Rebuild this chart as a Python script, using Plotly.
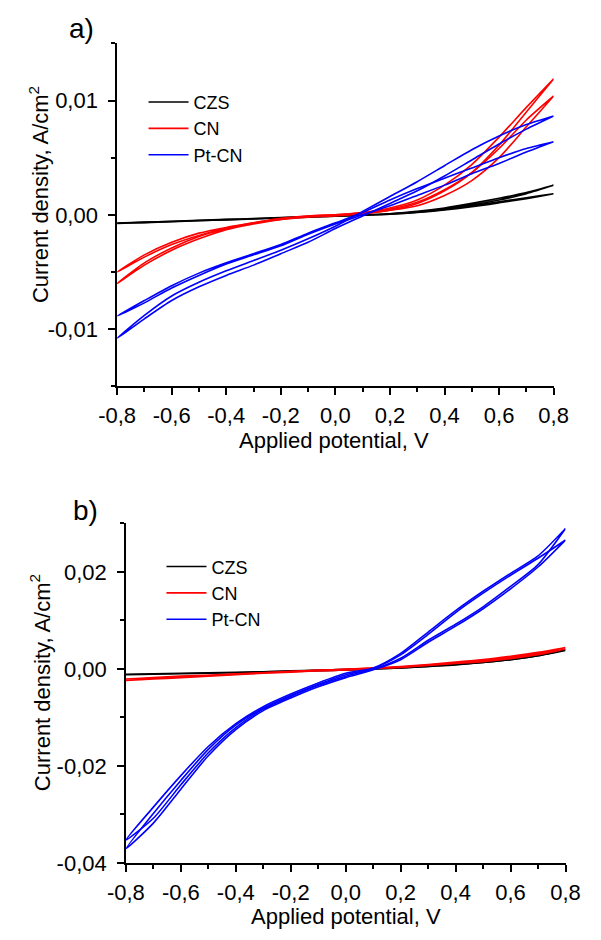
import plotly.graph_objects as go

# ---------------- data ----------------
V = [-0.8, -0.7, -0.6, -0.5, -0.4, -0.3, -0.2, -0.1, 0.0, 0.1, 0.2, 0.3, 0.4, 0.5, 0.6, 0.7, 0.8]
series_names = ["CZS", "CN", "Pt-CN"]

# panel a) : two cycles per sample, each cycle = forward + reverse branch (A/cm2)
a_czs_c1_fwd = [-0.00075, -0.00066, -0.00058, -0.00050, -0.00042, -0.00034, -0.00026, -0.00018, -0.00010, -0.00002, 0.00010, 0.00030, 0.00060, 0.00100, 0.00145, 0.00195, 0.00258]
a_czs_c1_rev = [-0.00075, -0.00068, -0.00060, -0.00052, -0.00044, -0.00036, -0.00028, -0.00020, -0.00012, -0.00004, 0.00006, 0.00022, 0.00048, 0.00085, 0.00130, 0.00185, 0.00258]
a_czs_c2_fwd = [-0.00072, -0.00064, -0.00056, -0.00048, -0.00040, -0.00032, -0.00024, -0.00016, -0.00009, -0.00002, 0.00008, 0.00025, 0.00050, 0.00080, 0.00115, 0.00150, 0.00185]
a_czs_c2_rev = [-0.00072, -0.00066, -0.00058, -0.00050, -0.00042, -0.00034, -0.00026, -0.00018, -0.00011, -0.00004, 0.00005, 0.00020, 0.00042, 0.00070, 0.00105, 0.00142, 0.00185]

a_cn_c1_fwd = [-0.0060, -0.0044, -0.0031, -0.0021, -0.0013, -0.0008, -0.0004, -0.0001, 0.0000, 0.0002, 0.0006, 0.0013, 0.0026, 0.0044, 0.0068, 0.0094, 0.0119]
a_cn_c1_rev = [-0.0060, -0.0042, -0.0029, -0.0019, -0.0012, -0.0007, -0.0004, -0.0002, -0.0001, 0.0001, 0.0004, 0.0010, 0.0021, 0.0037, 0.0061, 0.0090, 0.0119]
a_cn_c2_fwd = [-0.0050, -0.0037, -0.0026, -0.0018, -0.0012, -0.0007, -0.0004, -0.0001, 0.0000, 0.0002, 0.0005, 0.0011, 0.0022, 0.0037, 0.0058, 0.0083, 0.0104]
a_cn_c2_rev = [-0.0050, -0.0035, -0.0024, -0.0016, -0.0011, -0.0007, -0.0003, -0.0001, 0.0000, 0.0001, 0.0004, 0.0008, 0.0017, 0.0030, 0.0050, 0.0077, 0.0104]

a_pt_c1_fwd = [-0.0108, -0.0088, -0.0071, -0.0059, -0.0049, -0.0040, -0.0031, -0.0021, -0.0010, 0.0003, 0.0016, 0.0029, 0.0043, 0.0057, 0.0069, 0.0079, 0.00865]
a_pt_c1_rev = [-0.0108, -0.0091, -0.0075, -0.0063, -0.0053, -0.0044, -0.0034, -0.0024, -0.0012, -0.0001, 0.0010, 0.0021, 0.0034, 0.0048, 0.0062, 0.0075, 0.00865]
a_pt_c2_fwd = [-0.00885, -0.0075, -0.0062, -0.0051, -0.0042, -0.0034, -0.0026, -0.0016, -0.0007, 0.0002, 0.0013, 0.0023, 0.0032, 0.0041, 0.0050, 0.0058, 0.0064]
a_pt_c2_rev = [-0.00885, -0.0077, -0.0064, -0.0053, -0.0043, -0.0035, -0.0027, -0.0017, -0.0008, 0.0000, 0.0008, 0.0017, 0.0026, 0.0036, 0.0045, 0.0055, 0.0064]

# panel b)
b_czs_c1_fwd = [-0.0012, -0.0011, -0.0010, -0.0009, -0.0008, -0.0007, -0.0005, -0.0004, -0.0002, 0.0000, 0.0003, 0.0006, 0.0010, 0.0015, 0.0021, 0.0028, 0.0038]
b_czs_c1_rev = [-0.0012, -0.0011, -0.0010, -0.0009, -0.0008, -0.0006, -0.0005, -0.0003, -0.0002, 0.0000, 0.0002, 0.0005, 0.0009, 0.0013, 0.0019, 0.0027, 0.0038]
b_czs_c2_fwd = [-0.0011, -0.0010, -0.0009, -0.0008, -0.0007, -0.0006, -0.0005, -0.0003, -0.0002, 0.0000, 0.0003, 0.0006, 0.0010, 0.0015, 0.0021, 0.0029, 0.0040]
b_czs_c2_rev = [-0.0011, -0.0010, -0.0009, -0.0008, -0.0007, -0.0006, -0.0004, -0.0003, -0.0001, 0.0000, 0.0002, 0.0005, 0.0008, 0.0013, 0.0019, 0.0027, 0.0040]

b_cn_c1_fwd = [-0.0024, -0.0020, -0.0017, -0.0014, -0.0011, -0.0008, -0.0006, -0.0003, -0.0001, 0.0002, 0.0005, 0.0009, 0.0014, 0.0019, 0.0026, 0.0034, 0.0044]
b_cn_c1_rev = [-0.0024, -0.0021, -0.0018, -0.0015, -0.0012, -0.0009, -0.0007, -0.0004, -0.0002, 0.0001, 0.0004, 0.0008, 0.0012, 0.0017, 0.0023, 0.0031, 0.0044]
b_cn_c2_fwd = [-0.0021, -0.0018, -0.0015, -0.0013, -0.0010, -0.0008, -0.0005, -0.0003, -0.0001, 0.0001, 0.0004, 0.0008, 0.0012, 0.0017, 0.0023, 0.0031, 0.0041]
b_cn_c2_rev = [-0.0021, -0.0019, -0.0016, -0.0013, -0.0011, -0.0008, -0.0006, -0.0004, -0.0002, 0.0001, 0.0003, 0.0007, 0.0011, 0.0015, 0.0021, 0.0029, 0.0041]

b_pt_c1_fwd = [-0.0353, -0.0285, -0.0220, -0.0160, -0.0113, -0.0078, -0.0052, -0.0029, -0.0009, 0.0002, 0.0032, 0.0076, 0.0120, 0.0160, 0.0197, 0.0233, 0.02895]
b_pt_c1_rev = [-0.0353, -0.0308, -0.0239, -0.0173, -0.0121, -0.0083, -0.0057, -0.0034, -0.0015, -0.0001, 0.0022, 0.0059, 0.0092, 0.0128, 0.0170, 0.0215, 0.02895]
b_pt_c2_fwd = [-0.0371, -0.0298, -0.0230, -0.0166, -0.0116, -0.0081, -0.0055, -0.0032, -0.0012, 0.0001, 0.0029, 0.0071, 0.0116, 0.0156, 0.0193, 0.0228, 0.02657]
b_pt_c2_rev = [-0.0371, -0.0318, -0.0248, -0.0179, -0.0125, -0.0086, -0.0060, -0.0037, -0.0018, -0.0002, 0.0019, 0.0055, 0.0088, 0.0124, 0.0165, 0.0210, 0.02657]

x_tickvals = [-0.8, -0.6, -0.4, -0.2, 0.0, 0.2, 0.4, 0.6, 0.8]
x_ticktext = ["-0,8", "-0,6", "-0,4", "-0,2", "0,0", "0,2", "0,4", "0,6", "0,8"]
ya_tickvals = [-0.01, 0.0, 0.01]
ya_ticktext = ["-0,01", "0,00", "0,01"]
yb_tickvals = [-0.04, -0.02, 0.0, 0.02]
yb_ticktext = ["-0,04", "-0,02", "0,00", "0,02"]

x_title = "Applied potential, V"
y_title = "Current density, A/cm<sup>2</sup>"
panel_labels = ["a)", "b)"]

# ---------------- figure ----------------
FONT = "Liberation Sans, Arial, sans-serif"
colors = {"CZS": "#000000", "CN": "#ff0000", "Pt-CN": "#0000ff"}

panel_a = {
    "CZS": [(a_czs_c1_fwd, a_czs_c1_rev), (a_czs_c2_fwd, a_czs_c2_rev)],
    "CN": [(a_cn_c1_fwd, a_cn_c1_rev), (a_cn_c2_fwd, a_cn_c2_rev)],
    "Pt-CN": [(a_pt_c1_fwd, a_pt_c1_rev), (a_pt_c2_fwd, a_pt_c2_rev)],
}
panel_b = {
    "CZS": [(b_czs_c1_fwd, b_czs_c1_rev), (b_czs_c2_fwd, b_czs_c2_rev)],
    "CN": [(b_cn_c1_fwd, b_cn_c1_rev), (b_cn_c2_fwd, b_cn_c2_rev)],
    "Pt-CN": [(b_pt_c1_fwd, b_pt_c1_rev), (b_pt_c2_fwd, b_pt_c2_rev)],
}

fig = go.Figure()

def add_panel(data, xaxis, yaxis, legend, group_prefix):
    for name in series_names:
        for k, (fwd, rev) in enumerate(data[name]):
            xs = V + V[::-1]
            ys = fwd + rev[::-1]
            fig.add_trace(go.Scatter(
                x=xs, y=ys, mode="lines", name=name,
                line=dict(color=colors[name], width=1.6, shape="spline", smoothing=0.7),
                xaxis=xaxis, yaxis=yaxis, legend=legend,
                legendgroup=group_prefix + name, showlegend=(k == 0),
                hoverinfo="skip",
            ))

add_panel(panel_a, "x", "y", "legend", "a")
add_panel(panel_b, "x2", "y2", "legend2", "b")

axis_common = dict(
    showline=True, linecolor="black", linewidth=1.5, mirror=False,
    ticks="outside", ticklen=7, tickwidth=1.5, tickcolor="black",
    showgrid=False, zeroline=False,
    tickfont=dict(family=FONT, size=22, color="black"),
)
minor_common = dict(ticks="outside", ticklen=4, tickwidth=1.5, tickcolor="black", showgrid=False)

legend_common = dict(xanchor="left", yanchor="top", bgcolor="rgba(0,0,0,0)",
                     font=dict(family=FONT, size=18, color="black"),
                     itemwidth=40, tracegroupgap=0)

def title_ann(text, x, y, angle=0):
    return dict(text=text, x=x/601, y=1-y/940, xref="paper", yref="paper",
                xanchor="center", yanchor="middle", showarrow=False, textangle=angle,
                font=dict(family=FONT, size=22, color="black"))

fig.update_layout(
    width=601, height=940,
    margin=dict(l=0, r=0, t=0, b=0),
    paper_bgcolor="white", plot_bgcolor="white",
    font=dict(family=FONT, color="black"),
    xaxis=dict(axis_common, domain=[104/601, 566.7/601], anchor="y", range=[-0.8, 0.8],
               tickmode="array", tickvals=x_tickvals, ticktext=x_ticktext, ticklabelstandoff=2,
               minor=dict(minor_common, tickmode="linear", tick0=-0.8, dtick=0.1)),
    yaxis=dict(axis_common, domain=[1-391.7/940, 1-44/940], anchor="x", range=[-0.015, 0.015],
               tickmode="array", tickvals=ya_tickvals, ticktext=ya_ticktext, ticklabelstandoff=6,
               minor=dict(minor_common, tickmode="linear", tick0=0, dtick=0.005)),
    xaxis2=dict(axis_common, domain=[113.3/601, 579.3/601], anchor="y2", range=[-0.8, 0.8],
                tickmode="array", tickvals=x_tickvals, ticktext=x_ticktext, ticklabelstandoff=2,
                minor=dict(minor_common, tickmode="linear", tick0=-0.8, dtick=0.1)),
    yaxis2=dict(axis_common, domain=[1-875/940, 1-530.7/940], anchor="x2", range=[-0.04, 0.03],
                tickmode="array", tickvals=yb_tickvals, ticktext=yb_ticktext, ticklabelstandoff=6,
                minor=dict(minor_common, tickmode="linear", tick0=0, dtick=0.01)),
    legend=dict(legend_common, x=132/601, y=1-85/940),
    legend2=dict(legend_common, x=151/601, y=1-556/940),
    annotations=[
        dict(text=panel_labels[0], x=66/601, y=1-29/940, xref="paper", yref="paper",
             xanchor="center", yanchor="middle", showarrow=False,
             font=dict(family=FONT, size=28, color="black")),
        dict(text=panel_labels[1], x=70/601, y=1-518/940, xref="paper", yref="paper",
             xanchor="center", yanchor="middle", showarrow=False,
             font=dict(family=FONT, size=28, color="black")),
        title_ann(x_title, 334, 447),
        title_ann(x_title, 347, 929),
        title_ann(y_title, 21, 197, -90),
        title_ann(y_title, 23, 692, -90),
    ],
)

fig.write_html("out.html")
